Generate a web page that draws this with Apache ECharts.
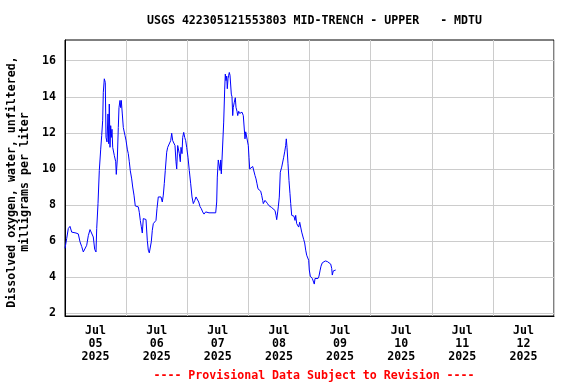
<!DOCTYPE html>
<html>
<head>
<meta charset="utf-8">
<script src="https://cdn.jsdelivr.net/npm/echarts@6/dist/echarts.min.js"></script>
<style>
html,body{margin:0;padding:0;background:#fff;}
#chart{width:576px;height:384px;}
</style>
</head>
<body>
<div id="chart"></div>
<script>
// Hours since 2025-07-05 00:00 and dissolved oxygen (mg/L)
const hours = [
  0, 0.67, 1.30, 1.96, 2.63, 3.26, 4.32, 5.22, 5.89, 6.56, 7.19, 7.74, 8.52, 9.15, 9.82, 10.48, 11.11, 11.66, 12.17, 12.45,
  12.96, 13.47, 14.02, 14.41, 14.80, 15.04, 15.43, 15.82, 16.10, 16.49, 16.88, 17.16, 17.39, 17.67, 17.94, 18.18, 18.45, 18.73, 19.12, 19.36,
  19.63, 19.91, 20.14, 20.54, 20.93, 21.20, 21.59, 21.87, 22.11, 22.50, 22.89, 23.56, 23.95, 24.46, 24.85, 25.25, 25.64, 26.19, 26.58, 27.09,
  27.60, 28.15, 28.78, 29.17, 29.57, 29.96, 30.35, 30.74, 31.41, 31.80, 32.31, 32.71, 33.10, 33.65, 33.88, 34.28, 34.67, 34.94, 35.34,
  35.73, 36.12, 36.63, 37.30, 37.69, 38.20, 38.60, 38.99, 39.38, 39.93, 40.32, 40.83, 41.50, 41.89, 42.29, 42.80, 43.19, 43.58, 43.86, 44.25,
  44.64, 44.88, 45.27, 45.55, 45.94, 46.21, 46.61, 47.00, 47.39, 47.78, 48.29, 48.80, 49.35, 49.87, 50.38, 50.93, 51.44, 51.95, 52.50, 53.01,
  53.52, 54.06, 54.58, 55.24, 55.64, 55.87, 56.54, 57.72, 59.17, 59.56, 59.80, 60.19, 60.58, 60.86, 61.13, 61.37, 61.64, 62.04, 62.31,
  62.70, 62.94, 63.21, 63.49, 63.72, 64.00, 64.27, 64.51, 64.79, 65.06, 65.30, 65.57, 65.85, 66.08, 66.47, 66.87, 67.14, 67.53, 67.81, 68.20,
  68.59, 68.98, 69.50, 70.01, 70.56, 70.67, 70.95, 71.34, 71.58, 71.97, 72.24, 72.52, 72.91, 73.30, 73.70, 74.21, 74.60, 75.00, 75.39, 75.78,
  76.17, 76.84, 77.23, 77.62, 77.86, 78.53, 79.04, 79.43, 79.98, 80.49, 81.16, 81.79, 82.45, 82.85, 83.12, 83.51, 83.75, 84.14, 84.53,
  85.08, 85.48, 85.87, 86.26, 86.65, 86.89, 87.17, 87.56, 87.95, 88.34, 88.62, 89.01, 89.40, 89.91, 90.31, 90.58, 90.97, 91.37, 91.76, 92.15,
  92.54, 92.94, 93.33, 93.72, 94.11, 94.51, 94.90, 95.29, 95.68, 95.92, 96.31, 96.71, 97.10, 97.49, 97.88, 98.16, 98.55, 98.94, 99.34, 99.73,
  100.12, 100.51, 101.02, 101.57, 102.20, 102.99, 103.77, 104.32, 104.72, 104.95, 105.34, 105.73, 106.29
];
const dissolvedOxygen = [
  5.6, 6.15, 6.7, 6.82, 6.5, 6.6, 6.45, 6.4, 5.96, 5.7, 5.4, 5.45, 5.77, 6.3, 6.64, 6.7, 6.23, 5.54, 5.4, 6.7,
  8.08, 9.92, 11.1, 11.85, 12.7, 14.25, 15.0, 14.8, 11.75, 11.5, 13.05, 11.4, 13.6, 11.2, 12.4, 11.75, 12.2, 11.2, 11.1, 10.75,
  10.65, 10.4, 9.7, 10.55, 12.3, 13.4, 13.8, 13.4, 13.8, 13.05, 12.3, 11.85, 11.6, 11.1, 10.85, 10.4, 9.9, 9.45, 9.0, 8.55,
  7.95, 7.9, 7.9, 7.6, 7.15, 6.8, 6.45, 7.25, 7.3, 7.2, 6.05, 5.5, 5.35, 5.4, 5.96, 6.6, 6.97, 6.9, 7.0,
  7.15, 7.8, 8.45, 8.35, 8.45, 8.17, 8.55, 9.2, 9.92, 10.93, 11.2, 11.3, 11.57, 11.98, 11.57, 11.48, 11.3, 10.4, 10.0, 11.3,
  11.35, 10.85, 10.4, 11.2, 10.85, 11.75, 12.03, 11.75, 11.57, 11.2, 10.65, 9.92, 9.18, 8.45, 8.08, 8.25, 8.45, 8.45, 8.17, 7.92,
  7.8, 7.62, 7.5, 7.62, 7.65, 7.55, 7.57, 7.57, 7.57, 8.17, 9.55, 10.5, 10.5, 9.92, 10.5, 9.73, 10.5, 10.5, 12.6,
  14.43, 15.26, 14.9, 15.15, 14.45, 15.0, 15.2, 15.35, 15.2, 15.26, 14.15, 14.0, 12.96, 13.42, 13.7, 13.95, 13.42, 13.2, 12.96, 13.2,
  13.08, 13.05, 13.15, 12.96, 12.96, 11.67, 12.06, 12.06, 11.95, 11.3, 10.65, 10.0, 10.0, 10.0, 10.14, 10.1, 9.64, 9.45, 9.18, 8.9,
  8.8, 8.77, 8.54, 8.26, 8.08, 8.26, 8.3, 8.1, 7.98, 7.92, 7.86, 7.77, 7.7, 7.43, 7.19, 7.62, 7.9, 8.44, 9.82,
  10.1, 10.2, 10.65, 10.95, 11.3, 11.67, 11.2, 10.29, 9.36, 8.63, 8.08, 7.43, 7.35, 7.38, 7.15, 7.43, 6.97, 7.05, 6.78, 7.05,
  6.97, 6.5, 6.4, 6.09, 5.9, 5.5, 5.22, 5.15, 4.94, 4.4, 4.06, 4.0, 3.93, 3.85, 3.62, 3.93, 3.98, 3.85, 3.93, 4.06,
  4.35, 4.61, 4.8, 4.87, 4.9, 4.87, 4.82, 4.73, 4.49, 4.12, 4.35, 4.35, 4.4
];
const yTicks = [2, 4, 6, 8, 10, 12, 14, 16];
const xLabelHours = [12, 36, 60, 84, 108, 132, 156, 180];
const xLabelMonth = ['Jul', 'Jul', 'Jul', 'Jul', 'Jul', 'Jul', 'Jul', 'Jul'];
const xLabelDay = ['05', '06', '07', '08', '09', '10', '11', '12'];
const xLabelYear = ['2025', '2025', '2025', '2025', '2025', '2025', '2025', '2025'];
const titleText = 'USGS 422305121553803 MID-TRENCH - UPPER   - MDTU';
const yAxisName = 'Dissolved oxygen, water, unfiltered,\nmilligrams per liter';
const footerText = '---- Provisional Data Subject to Revision ----';

const FONT = '"DejaVu Sans Mono", monospace';
const chart = echarts.init(document.getElementById('chart'), null, {renderer: 'canvas'});
const seriesData = hours.map((h, i) => [h, dissolvedOxygen[i]]);

chart.setOption({
  animation: false,
  backgroundColor: '#fff',
  title: [
    {
      text: titleText,
      left: 309.5, top: 10, textAlign: 'center',
      textStyle: {fontFamily: FONT, fontSize: 11.6, fontWeight: 'bold', color: '#000'}
    },
    {
      text: footerText,
      left: 309, top: 365, textAlign: 'center',
      textStyle: {fontFamily: FONT, fontSize: 11.6, fontWeight: 'bold', color: '#ff0000'}
    }
  ],
  grid: {left: 65, right: 22, top: 40, bottom: 68, show: true, borderColor: '#000', borderWidth: 1,
         containLabel: false, outerBoundsMode: 'none'},
  xAxis: {
    type: 'value', min: 0, max: 192, interval: 24,
    axisLine: {show: true, lineStyle: {color: '#000', width: 1}},
    axisTick: {show: false},
    splitLine: {show: true, lineStyle: {color: '#cccccc', width: 1}},
    axisLabel: {
      customValues: xLabelHours,
      margin: 8,
      fontFamily: FONT, fontSize: 11.6, fontWeight: 'bold', color: '#000', lineHeight: 13,
      formatter: function (v) {
        const i = xLabelHours.indexOf(v);
        return i < 0 ? '' : xLabelMonth[i] + '\n' + xLabelDay[i] + '\n' + xLabelYear[i];
      }
    }
  },
  yAxis: {
    type: 'value', min: 1.85, max: 17.15,
    name: yAxisName, nameLocation: 'middle', nameGap: 34, nameRotate: 90,
    nameTextStyle: {fontFamily: FONT, fontSize: 11.6, fontWeight: 'bold', color: '#000', lineHeight: 13, padding: [0, 8, 0, 0]},
    axisLine: {show: true, lineStyle: {color: '#000', width: 1}},
    axisTick: {show: false, customValues: yTicks},
    splitLine: {show: true, lineStyle: {color: '#cccccc', width: 1}},
    axisLabel: {
      customValues: yTicks, margin: 9,
      fontFamily: FONT, fontSize: 11.6, fontWeight: 'bold', color: '#000'
    }
  },
  series: [{
    type: 'line',
    data: seriesData,
    showSymbol: false,
    symbol: 'none',
    lineStyle: {color: '#0000ff', width: 1},
    itemStyle: {color: '#0000ff'},
    silent: true
  }]
});
</script>
</body>
</html>
